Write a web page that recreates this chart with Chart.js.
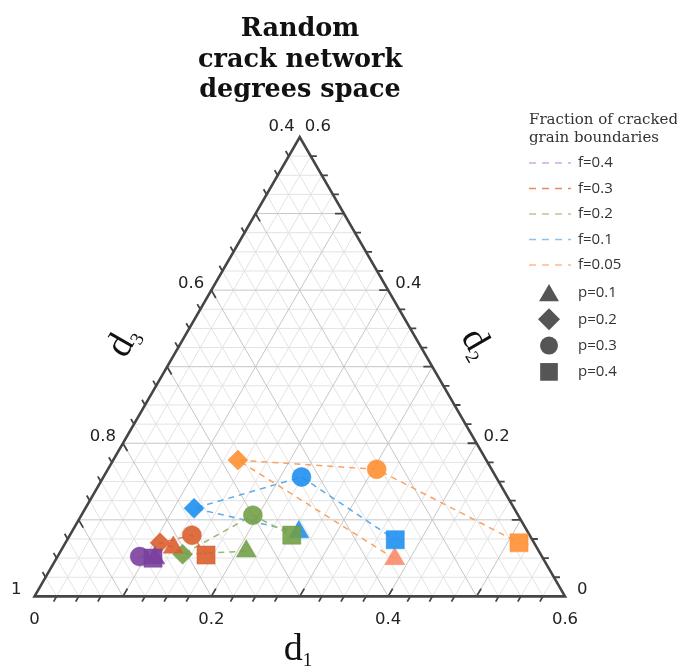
<!DOCTYPE html>
<html>
<head>
<meta charset="utf-8">
<title>Random crack network degrees space</title>
<script src="https://cdn.jsdelivr.net/npm/chart.js@4.4.1/dist/chart.umd.min.js"></script>
<style>
  html, body { margin: 0; padding: 0; background: #fff; }
  #wrap { width: 677px; height: 668px; }
</style>
</head>
<body>
<div id="wrap"><canvas id="ternary" width="677" height="668"></canvas></div>
<script>
// ternary space: d1 along the bottom, d2 on the right, d3 = 1 - d1 - d2 on the left
const pLabels = ['p=0.1', 'p=0.2', 'p=0.3', 'p=0.4'];
const pShapes = ['triangle', 'rectRot', 'circle', 'rect'];
const pSizes = [11.5, 10, 9.5, 12.8];

const fLabels = ['f=0.4', 'f=0.3', 'f=0.2', 'f=0.1', 'f=0.05'];
const fColors = ['#7b3f9e', '#d95f2e', '#72a047', '#1f8ff0', '#ff8f33'];
const fLineColors = ['#b48fd6', '#dc7a52', '#9cba72', '#5eaaea', '#f8a363'];
const fKeyColors = ['#c9aee6', '#e88a66', '#b5c997', '#8cc4ef', '#fdbb8e'];

// d1 and d2 values, one per p level (0.1 .. 0.4); null = not shown
const d1F04 = [0.111, null, 0.093, 0.109];
const d2F04 = [0.050, null, 0.052, 0.050];
const d1F03 = [0.125, 0.107, 0.138, 0.167];
const d2F03 = [0.064, 0.070, 0.080, 0.054];
const d1F02 = [0.210, 0.140, 0.194, 0.251];
const d2F02 = [0.059, 0.055, 0.106, 0.080];
const d1F01 = [0.257, 0.123, 0.224, 0.371];
const d2F01 = [0.084, 0.115, 0.156, 0.074];
const d1F005 = [0.383, 0.141, 0.304, 0.513];
const d2F005 = [0.049, 0.178, 0.166, 0.070];

const bottomTicks = [0, 0.2, 0.4, 0.6];   // d1
const leftTicks = [1, 0.8, 0.6, 0.4];     // d3
const rightTicks = [0, 0.2, 0.4, 0.6];    // d2

const SQ = Math.sqrt(3) / 2;
const SPAN = 0.6;
const STEP = 0.025;

function toXY(d1, d2) {
    if (d1 === null) return { x: NaN, y: NaN };
    return { x: d1 + d2 / 2, y: d2 * SQ };
}

const seriesD1 = [d1F04, d1F03, d1F02, d1F01, d1F005];
const seriesD2 = [d2F04, d2F03, d2F02, d2F01, d2F005];

const datasets = [];
fLabels.forEach((lab, i) => {
    const pts = seriesD1[i].map((d1, k) => toXY(d1, seriesD2[i][k]));
    // dashed path, drawn under every marker
    datasets.push({
        label: lab + ' path',
        data: pts,
        showLine: true,
        spanGaps: true,
        borderColor: fLineColors[i],
        borderWidth: 1.5,
        borderDash: [6, 5],
        pointRadius: 0,
        order: 10
    });
    let fill = pShapes.map(() => fColors[i]);
    if (lab === 'f=0.05') fill[0] = '#fb8a6a';
    datasets.push({
        label: lab,
        data: pts,
        showLine: false,
        pointStyle: pShapes,
        pointRadius: pSizes,
        backgroundColor: fill.map(c => c + 'e6'),
        borderColor: fill.map(c => c + '80'),
        borderWidth: 1,
        order: i + 1
    });
});

function tern(chart, d1, d2) {
    const { x, y } = chart.scales;
    return [x.getPixelForValue(d1 + d2 / 2), y.getPixelForValue(d2 * SQ)];
}

function seg(ctx, a, b) {
    ctx.moveTo(a[0], a[1]);
    ctx.lineTo(b[0], b[1]);
}

function subLabel(ctx, base, sub, cx, cy, angle) {
    ctx.save();
    ctx.translate(cx, cy);
    ctx.rotate(angle);
    ctx.fillStyle = '#111';
    ctx.textBaseline = 'alphabetic';
    ctx.textAlign = 'left';
    ctx.font = '38px "Liberation Serif"';
    const wb = ctx.measureText(base).width;
    ctx.font = '19px "Liberation Serif"';
    const ws = ctx.measureText(sub).width;
    const x0 = -(wb + ws) / 2;
    ctx.font = '38px "Liberation Serif"';
    ctx.fillText(base, x0, 12);
    ctx.font = '19px "Liberation Serif"';
    ctx.fillText(sub, x0 + wb, 18);
    ctx.restore();
}

const ternaryFrame = {
    id: 'ternaryFrame',
    beforeDatasetsDraw(chart) {
        const ctx = chart.ctx;
        const n = Math.round(SPAN / STEP);
        ctx.save();
        // minor then major grid
        [false, true].forEach(major => {
            ctx.beginPath();
            for (let k = 1; k < n; k++) {
                if ((k % 4 === 0) !== major) continue;
                const v = k * STEP;
                seg(ctx, tern(chart, v, 0), tern(chart, v, SPAN - v));
                seg(ctx, tern(chart, 0, v), tern(chart, SPAN - v, v));
                seg(ctx, tern(chart, v, 0), tern(chart, 0, v));
            }
            ctx.strokeStyle = major ? '#c6c6c6' : '#e3e3e3';
            ctx.lineWidth = 1;
            ctx.stroke();
        });

        // ticks: major inward along the grid, minor outward
        ctx.beginPath();
        for (let k = 1; k < n; k++) {
            const v = k * STEP;
            const major = k % 4 === 0;
            const len = major ? 9 : -6;
            const axes = [
                [tern(chart, v, 0), 0.5, -SQ],
                [tern(chart, 0, v), 0.5, SQ],
                [tern(chart, SPAN - v, v), -1, 0]
            ];
            axes.forEach(([p, ux, uy]) => seg(ctx, p, [p[0] + ux * len, p[1] + uy * len]));
        }
        ctx.strokeStyle = '#444';
        ctx.lineWidth = 1.8;
        ctx.stroke();

        // triangle edges
        const a = tern(chart, 0, 0), b = tern(chart, SPAN, 0), c = tern(chart, 0, SPAN);
        ctx.beginPath();
        ctx.moveTo(a[0], a[1]);
        ctx.lineTo(b[0], b[1]);
        ctx.lineTo(c[0], c[1]);
        ctx.closePath();
        ctx.strokeStyle = '#454545';
        ctx.lineWidth = 2.6;
        ctx.lineJoin = 'miter';
        ctx.stroke();

        // tick labels
        ctx.fillStyle = '#222';
        ctx.font = '16.5px "DejaVu Sans"';
        ctx.textBaseline = 'alphabetic';
        ctx.textAlign = 'center';
        bottomTicks.forEach(t => {
            const p = tern(chart, t, 0);
            ctx.fillText(String(t), p[0], p[1] + 28);
        });
        ctx.textAlign = 'right';
        leftTicks.forEach(t => {
            const p = tern(chart, 0, 1 - t);
            const dx = t === 1 ? -13 : (t === 0.4 ? -5 : -7);
            const dy = t === 0.4 ? -6 : -2.5;
            ctx.fillText(String(t), p[0] + dx, p[1] + dy);
        });
        ctx.textAlign = 'left';
        rightTicks.forEach(t => {
            const p = tern(chart, SPAN - t, t);
            const dx = t === 0 ? 12 : (t === 0.6 ? 5 : 7);
            const dy = t === 0.6 ? -6 : -2.5;
            ctx.fillText(String(t), p[0] + dx, p[1] + dy);
        });
        ctx.restore();
    },
    afterDraw(chart) {
        const ctx = chart.ctx;
        ctx.save();

        // title
        ctx.fillStyle = '#111';
        ctx.textAlign = 'center';
        ctx.textBaseline = 'alphabetic';
        ctx.font = 'bold 25.5px "DejaVu Serif"';
        ['Random', 'crack network', 'degrees space'].forEach((line, i) => {
            ctx.fillText(line, 300, 36 + i * 30.5);
        });

        // axis names
        subLabel(ctx, 'd', '1', 298, 648, 0);
        subLabel(ctx, 'd', '3', 122, 341, -Math.PI / 3);
        subLabel(ctx, 'd', '2', 478, 343, Math.PI / 3);

        // key
        ctx.textAlign = 'left';
        ctx.fillStyle = '#333';
        ctx.font = '15px "DejaVu Serif"';
        ctx.fillText('Fraction of cracked', 529, 123.5);
        ctx.fillText('grain boundaries', 529, 141.5);

        ctx.font = '15px "Open Sans"';
        ctx.textBaseline = 'middle';
        fLabels.forEach((lab, i) => {
            const y = 163 + i * 25.5;
            ctx.beginPath();
            ctx.setLineDash([7, 6]);
            ctx.moveTo(529, y);
            ctx.lineTo(571, y);
            ctx.strokeStyle = fKeyColors[i];
            ctx.lineWidth = 1.5;
            ctx.stroke();
            ctx.setLineDash([]);
            ctx.fillStyle = '#333';
            ctx.fillText(lab, 578, y);
        });
        const keyR = [11.5, 11, 9, 12.5];
        pLabels.forEach((lab, i) => {
            const y = 293 + i * 26.3;
            ctx.fillStyle = '#555';
            ctx.strokeStyle = '#555';
            ctx.lineWidth = 1;
            Chart.helpers.drawPoint(ctx, {
                pointStyle: pShapes[i], rotation: 0, radius: keyR[i], borderWidth: 0
            }, 549, i === 0 ? y + 2.5 : y);
            ctx.fillStyle = '#333';
            ctx.fillText(lab, 578, y);
        });
        ctx.restore();
    }
};

new Chart(document.getElementById('ternary'), {
    type: 'scatter',
    data: { datasets },
    options: {
        responsive: false,
        devicePixelRatio: 1,
        animation: false,
        events: [],
        layout: { padding: { left: 34.5, right: 112, top: 137, bottom: 71.6 } },
        scales: {
            x: { type: 'linear', min: 0, max: SPAN, display: false },
            y: { type: 'linear', min: 0, max: SPAN * SQ, display: false }
        },
        plugins: {
            legend: { display: false },
            tooltip: { enabled: false }
        }
    },
    plugins: [ternaryFrame]
});
</script>
</body>
</html>
